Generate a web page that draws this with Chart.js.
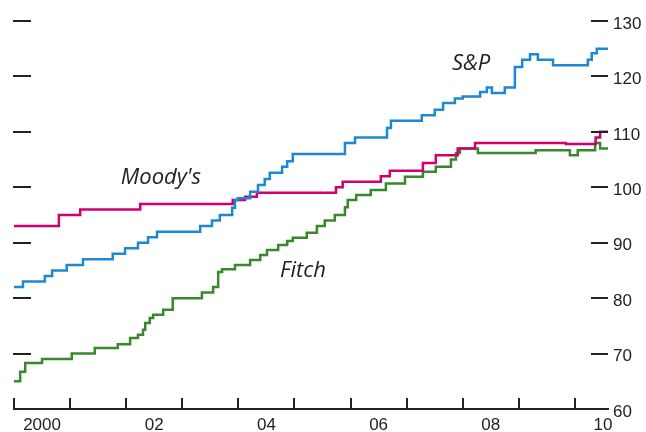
<!DOCTYPE html>
<html>
<head>
<meta charset="utf-8">
<script src="https://cdn.jsdelivr.net/npm/chart.js@4"></script>
<style>
  html,body{margin:0;padding:0;background:#fff;}
  #wrap{width:646px;height:432px;}
</style>
</head>
<body>
<div id="wrap"><canvas id="ratings"></canvas></div>
<script>
// step points: year when the rating changes, rating from then on
const spYears = [2000.00,2000.16,2000.55,2000.68,2000.94,2001.23,2001.76,2001.98,2002.21,2002.39,2002.55,2003.32,2003.53,2003.67,2003.89,2003.94,2003.99,2004.21,2004.35,2004.47,2004.56,2004.78,2004.87,2004.97,2005.90,2006.08,2006.65,2006.72,2007.27,2007.50,2007.65,2007.86,2008.00,2008.31,2008.43,2008.52,2008.75,2008.93,2009.06,2009.20,2009.34,2009.61,2010.23,2010.30,2010.39,2010.59];
const spValues = [82,83,84,85,86,87,88,89,90,91,92,93,94,95,96.3,97.7,98,99.2,100.4,101.5,102.6,103.7,104.7,106,108,109,110.7,112,113,114,115.2,116,116.4,117.2,118,117,118,121.7,123,124,123,122,123,124.2,125,125];

const moodysYears = [2000.00,2000.80,2001.18,2002.25,2003.90,2004.12,2004.33,2005.74,2005.86,2006.54,2006.70,2007.29,2007.52,2007.91,2008.22,2009.84,2010.37,2010.45,2010.59];
const moodysValues = [93,95,96,97,97.7,98.3,99,100,101,102,103,104.4,105.8,107,108,107.8,109,110,110];

const fitchYears = [2000.00,2000.11,2000.20,2000.50,2001.03,2001.44,2001.85,2002.07,2002.21,2002.30,2002.34,2002.42,2002.48,2002.66,2002.83,2003.35,2003.55,2003.64,2003.71,2003.94,2004.21,2004.39,2004.51,2004.71,2004.87,2004.97,2005.22,2005.40,2005.54,2005.72,2005.90,2005.95,2006.10,2006.36,2006.63,2006.97,2007.29,2007.52,2007.79,2007.88,2007.95,2008.27,2009.30,2009.91,2010.05,2010.36,2010.45,2010.59];
const fitchValues = [65,66.7,68.3,69,70,71,71.7,72.8,73.4,74.3,75.5,76.4,77,77.9,80,81,82,84.7,85.2,86,86.9,87.8,88.7,89.6,90.3,90.9,91.8,93,94,95,96.4,97.7,98.6,99.5,100.7,101.9,102.8,103.7,105,106.2,107,106.2,106.7,105.8,106.7,108,107,107];

const yTicks = [60,70,80,90,100,110,120,130];
const yearTicks = [2000,2001,2002,2003,2004,2005,2006,2007,2008,2009,2010];
const yearLabels = ['2000','02','04','06','08','10'];
const labelYears = [2000.5,2002.5,2004.5,2006.5,2008.5,2010.5];

const seriesNames = ['S&P',"Moody's",'Fitch'];
const nameAt = [[2008.15,122.2],[2002.62,101.7],[2005.15,84.9]];

function pts(xs, ys){ return xs.map((x,i)=>({x:x,y:ys[i]})); }

const tickMarks = {
  id:'tickMarks',
  afterDraw(chart){
    const c = chart.ctx, a = chart.chartArea, sx = chart.scales.x, sy = chart.scales.y;
    c.save();
    c.strokeStyle = '#222';
    c.lineWidth = 2;
    c.beginPath();
    yTicks.slice(1).forEach(v=>{
      const py = Math.round(sy.getPixelForValue(v));
      c.moveTo(a.left-1, py); c.lineTo(a.left+17, py);
      c.moveTo(a.right-17, py); c.lineTo(a.right, py);
    });
    yearTicks.forEach(yr=>{
      const px = Math.round(sx.getPixelForValue(yr));
      c.moveTo(px, a.bottom); c.lineTo(px, a.bottom-11);
    });
    c.stroke();
    c.font = 'italic 22px "Open Sans", sans-serif';
    c.fillStyle = '#222';
    c.textAlign = 'center';
    c.textBaseline = 'middle';
    seriesNames.forEach((n,i)=>{
      c.fillText(n, sx.getPixelForValue(nameAt[i][0]), sy.getPixelForValue(nameAt[i][1]));
    });
    c.restore();
  }
};

new Chart(document.getElementById('ratings'), {
  type:'line',
  data:{
    datasets:[
      {label:'S&P', data:pts(spYears,spValues), borderColor:'rgb(30,136,210)', borderWidth:2.5, stepped:'before', pointRadius:0, fill:false},
      {label:"Moody's", data:pts(moodysYears,moodysValues), borderColor:'rgb(208,0,110)', borderWidth:2.5, stepped:'before', pointRadius:0, fill:false},
      {label:'Fitch', data:pts(fitchYears,fitchValues), borderColor:'rgb(58,136,45)', borderWidth:2.5, stepped:'before', pointRadius:0, fill:false}
    ]
  },
  options:{
    responsive:true,
    maintainAspectRatio:false,
    animation:false,
    layout:{padding:{left:14, top:21, right:0, bottom:0}},
    plugins:{legend:{display:false}, tooltip:{enabled:false}},
    scales:{
      x:{
        type:'linear',
        min:2000, max:2010.59,
        grid:{display:false, drawTicks:false},
        border:{display:true, color:'#222', width:2},
        afterBuildTicks:(s)=>{ s.ticks = labelYears.map(v=>({value:v})); },
        afterFit:(s)=>{ s.height = 23; },
        ticks:{
          autoSkip:false, maxRotation:0, padding:6,
          color:'#222',
          font:{family:'"Liberation Sans", sans-serif', size:17},
          callback:(v,i)=>yearLabels[i]
        }
      },
      y:{
        position:'right',
        min:60, max:130,
        grid:{display:false, drawTicks:false},
        border:{display:false},
        afterBuildTicks:(s)=>{ s.ticks = yTicks.map(v=>({value:v})); },
        afterFit:(s)=>{ s.width = 38; },
        ticks:{
          padding:5, color:'#222', labelOffset:3,
          font:{family:'"Liberation Sans", sans-serif', size:17}
        }
      }
    }
  },
  plugins:[tickMarks]
});
</script>
</body>
</html>
